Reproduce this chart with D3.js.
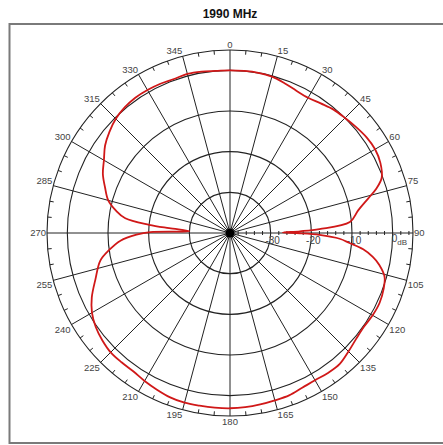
<!DOCTYPE html>
<html>
<head>
<meta charset="utf-8">
<script src="https://cdn.jsdelivr.net/npm/d3@7"></script>
<style>
  body { margin: 0; background: #fff; }
  text { font-family: "Liberation Sans", Arial, sans-serif; }
</style>
</head>
<body>
<div id="polar"></div>
<script>

//chart title
var title = "1990 MHz";

//angles (degrees, clockwise from top) of the measured pattern
var angles = [0, 5, 10, 15, 20, 25, 30, 35, 40, 45, 50, 55, 60, 65, 70, 73, 76, 80, 84.8, 87.5, 88.6, 89.5,
  90.2, 91.2, 93, 94.8, 97, 99.5, 102, 105.8, 110, 115, 120, 125, 130, 135, 140, 145, 150, 155, 160,
  165, 170, 175, 180, 185, 190, 195, 200, 205, 210, 215, 220, 225, 230, 235, 240, 245, 251, 258,
  262, 266, 269, 270.7, 272.5, 274.5, 275.8, 278, 281, 285, 290, 295, 300, 305, 310, 315, 320,
  325, 330, 335, 340, 345, 350, 355];

//gain in dB for each angle
var gains = [0, 0, 0, -0.2, -0.8, -1.4, -1.6, -1.1, -0.4, 0, 0.5, 1.0, 1.2, 0.8, -0.3, -2.3, -5, -8, -10.4, -18, -22.8, -27,
  -22.8, -18, -13, -10.5, -7, -4.4, -2.5, -0.5, 0.2, 0.6, 0.5, 0.2, 0.5, 1.2, 2, 2, 1.8, 2, 2.5,
  2.6, 2.8, 3, 3.1, 3.1, 3.1, 3.2, 3, 2.5, 2, 1.5, 1.5, 1.5, 1.0, 0.3, -0.8, -2.5, -5, -7.4,
  -10, -13, -17, -20.4, -30, -25, -20, -14, -11.5, -9, -7.3, -5.5, -4.2, -2.5, -1.3, -0.3, 0.3,
  0.6, 0.6, 0.5, 0.3, 0.5, 0.3, 0];

//ring values and labels
var ringValues = [-30, -20, -10, 0];
var ringLabels = ["-30", "-20", "-10", "0"];

//angle labels every 15 degrees
var spokeAngles = d3.range(0, 360, 15);

//svg sizes
var svgWidth = 443;
var svgHeight = 445;

var cx = 230;
var cy = 233;
var outerRadius = 183;

var svg = d3.select("#polar")
  .append("svg")
  .attr("width", svgWidth)
  .attr("height", svgHeight);

//frame around the plot
svg.append("rect")
  .attr("x", 9.5)
  .attr("y", 24)
  .attr("width", 440)
  .attr("height", 419)
  .attr("fill", "none")
  .attr("stroke", "#7a7a7a")
  .attr("stroke-width", 2);

//title
svg.append("text")
  .attr("x", 230)
  .attr("y", 18)
  .attr("text-anchor", "middle")
  .attr("font-size", "12px")
  .attr("font-weight", "bold")
  .attr("fill", "#111")
  .text(title);

var chartGroup = svg.append("g")
  .attr("transform", `translate(${cx}, ${cy})`);

//radius scale from dB
var rScale = d3.scaleLinear()
  .domain([-40, 5])
  .range([0, outerRadius]);

var toRad = d => d * Math.PI / 180;

//rings
chartGroup.selectAll(".ring")
  .data(ringValues.concat([5]))
  .enter()
  .append("circle")
  .attr("r", d => rScale(d))
  .attr("fill", "none")
  .attr("stroke", "#222")
  .attr("stroke-width", 1.1);

//spokes
chartGroup.selectAll(".spoke")
  .data(spokeAngles)
  .enter()
  .append("line")
  .attr("x1", 0)
  .attr("y1", 0)
  .attr("x2", d => outerRadius * Math.sin(toRad(d)))
  .attr("y2", d => -outerRadius * Math.cos(toRad(d)))
  .attr("stroke", "#222")
  .attr("stroke-width", 1);

//minor ticks on the outer circle every 5 degrees
chartGroup.selectAll(".tick5")
  .data(d3.range(0, 360, 5).filter(d => d % 15 !== 0))
  .enter()
  .append("line")
  .attr("x1", d => (outerRadius - 4) * Math.sin(toRad(d)))
  .attr("y1", d => -(outerRadius - 4) * Math.cos(toRad(d)))
  .attr("x2", d => outerRadius * Math.sin(toRad(d)))
  .attr("y2", d => -outerRadius * Math.cos(toRad(d)))
  .attr("stroke", "#222")
  .attr("stroke-width", 1);

//dB ticks along the 90 degree axis
chartGroup.selectAll(".dbtick")
  .data(d3.range(-38, 5, 2).filter(d => d % 10 !== 0))
  .enter()
  .append("line")
  .attr("x1", d => rScale(d))
  .attr("x2", d => rScale(d))
  .attr("y1", -2)
  .attr("y2", 2)
  .attr("stroke", "#222")
  .attr("stroke-width", 1);

//center dot
chartGroup.append("circle")
  .attr("r", 4.5)
  .attr("fill", "#000");

//angle labels
chartGroup.selectAll(".angleLabel")
  .data(spokeAngles)
  .enter()
  .append("text")
  .attr("x", d => (outerRadius + 1) * Math.sin(toRad(d)))
  .attr("y", d => -(outerRadius + 1) * Math.cos(toRad(d)))
  .attr("text-anchor", d => {
    var s = Math.sin(toRad(d));
    return Math.abs(s) < 0.01 ? "middle" : (s > 0 ? "start" : "end");
  })
  .attr("dy", d => {
    var c = Math.cos(toRad(d));
    return Math.abs(c) < 0.01 ? "0.35em" : (c > 0 ? "-0.1em" : "0.8em");
  })
  .attr("font-size", "9.5px")
  .attr("fill", "#444")
  .text(d => d);

//dB labels
chartGroup.selectAll(".dbLabel")
  .data(ringValues.slice(0, 3))
  .enter()
  .append("text")
  .attr("x", d => rScale(d) + 2)
  .attr("y", 11)
  .attr("text-anchor", "middle")
  .attr("font-size", "10px")
  .attr("fill", "#444")
  .text((d, i) => ringLabels[i]);

var zeroLabel = chartGroup.append("text")
  .attr("x", rScale(0) - 1)
  .attr("y", 9)
  .attr("font-size", "10px")
  .attr("fill", "#444");
zeroLabel.append("tspan").text(ringLabels[3]);
zeroLabel.append("tspan")
  .attr("dy", 3)
  .attr("font-size", "8px")
  .text("dB");

//pattern line
var pattern = angles.map((a, i) => ({ angle: a, gain: gains[i] }));

var radialLine = d3.lineRadial()
  .angle(d => toRad(d.angle))
  .radius(d => rScale(d.gain))
  .curve(d3.curveCatmullRomClosed.alpha(0.5));

chartGroup.append("path")
  .datum(pattern)
  .attr("d", radialLine)
  .attr("fill", "none")
  .attr("stroke", "#d01818")
  .attr("stroke-width", 1.8);

</script>
</body>
</html>
